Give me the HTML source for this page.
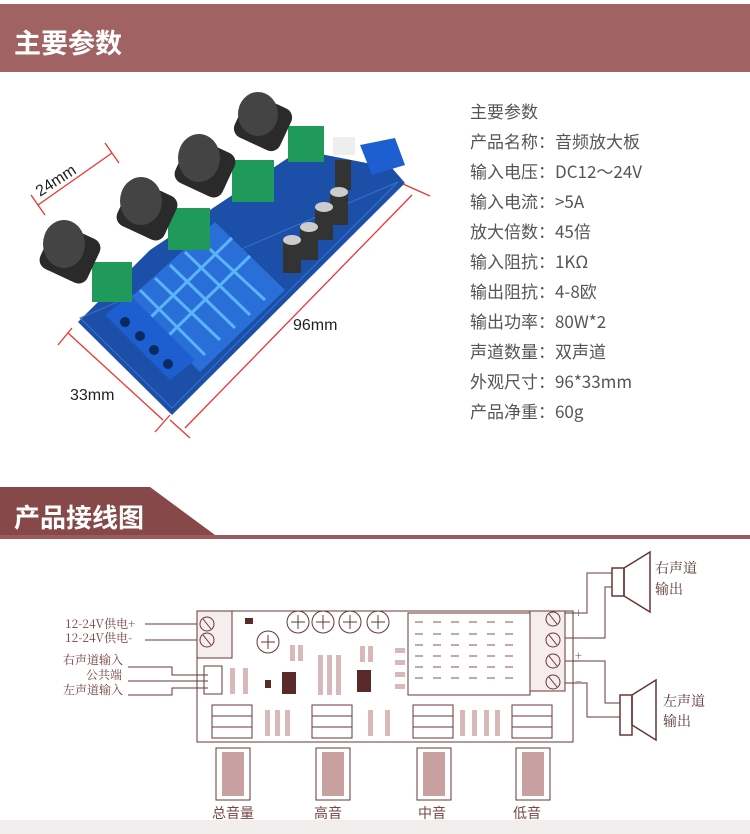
<!DOCTYPE html>
<html><head><meta charset="utf-8"><style>
body{margin:0;width:750px;height:834px;background:#fff;overflow:hidden;font-family:"Liberation Sans","Noto Sans CJK SC",sans-serif;position:relative}
.h1{position:absolute;left:0;top:4px;width:750px;height:68px;background:#a06262}
.t{position:absolute;color:#fff;font-weight:bold;font-size:27px;font-family:"Noto Sans CJK SC",sans-serif}
.spec{position:absolute;left:470px;top:96px;font-size:17px;color:#555;line-height:30px;font-family:"Noto Sans CJK SC",sans-serif}
</style></head><body>
<div class="h1"></div>
<div class="t" style="left:14px;top:22px">主要参数</div>
<div class="spec">主要参数<br>产品名称：音频放大板<br>输入电压：DC12～24V<br>输入电流：&gt;5A<br>放大倍数：45倍<br>输入阻抗：1KΩ<br>输出阻抗：4-8欧<br>输出功率：80W*2<br>声道数量：双声道<br>外观尺寸：96*33mm<br>产品净重：60g</div>

<svg style="position:absolute;left:0;top:0" width="750" height="834">
<!-- photo board -->
<polygon points="78,322,172,415,405,183,392,168,300,150,150,250" fill="#1c4fa8"/>
<polygon points="80,318,172,408,398,182" fill="none" stroke="#3a70c8" stroke-width="1"/>
<!-- heatsink -->
<polygon points="128,300,200,372,285,290,215,222" fill="#2a6fd8"/>
<g stroke="#5ab4f8" stroke-width="3">
<line x1="140" y1="290" x2="205" y2="355"/><line x1="155" y1="278" x2="220" y2="340"/><line x1="170" y1="265" x2="235" y2="328"/><line x1="185" y1="252" x2="250" y2="315"/><line x1="200" y1="240" x2="265" y2="300"/>
<line x1="150" y1="318" x2="232" y2="238"/><line x1="168" y1="336" x2="250" y2="256"/>
</g>
<!-- terminal blue -->
<polygon points="105,315,170,380,195,360,130,295" fill="#1d5fd0"/>
<g fill="#0a2a60"><circle cx="125" cy="322" r="5"/><circle cx="140" cy="336" r="5"/><circle cx="154" cy="350" r="5"/><circle cx="168" cy="364" r="5"/></g>
<polygon points="360,145,395,138,405,165,372,175" fill="#1d5fd0"/>
<rect x="333" y="137" width="22" height="18" fill="#eee"/>
<!-- caps -->
<g fill="#333"><rect x="283" y="238" width="18" height="35"/><rect x="300" y="225" width="18" height="35"/><rect x="315" y="205" width="18" height="35"/><rect x="330" y="190" width="18" height="35"/><rect x="335" y="160" width="16" height="30"/></g>
<g fill="#ccc"><ellipse cx="292" cy="240" rx="9" ry="5"/><ellipse cx="309" cy="227" rx="9" ry="5"/><ellipse cx="324" cy="207" rx="9" ry="5"/><ellipse cx="339" cy="192" rx="9" ry="5"/></g>
<!-- pots green -->
<g fill="#1f9a5a"><rect x="92" y="262" width="40" height="40"/><rect x="168" y="208" width="42" height="42"/><rect x="232" y="160" width="42" height="42"/><rect x="288" y="126" width="36" height="36"/></g>
<!-- knobs -->
<g fill="#2a2a2a">
<rect x="44" y="230" width="52" height="48" rx="10" transform="rotate(25 70 254)"/>
<rect x="121" y="187" width="52" height="48" rx="10" transform="rotate(25 147 211)"/>
<rect x="179" y="144" width="52" height="48" rx="10" transform="rotate(25 205 168)"/>
<rect x="238" y="100" width="50" height="46" rx="10" transform="rotate(25 263 123)"/></g>
<g fill="#444"><ellipse cx="64" cy="244" rx="21" ry="24"/><ellipse cx="141" cy="201" rx="21" ry="24"/><ellipse cx="199" cy="158" rx="21" ry="24"/><ellipse cx="258" cy="114" rx="20" ry="22"/></g>
<!-- dims -->
<g stroke="#e33" stroke-width="1.3">
<line x1="38" y1="205" x2="112" y2="153"/><line x1="31" y1="195" x2="45" y2="215"/><line x1="105" y1="143" x2="119" y2="163"/>
<line x1="185" y1="428" x2="412" y2="195"/><line x1="170" y1="420" x2="190" y2="438"/><line x1="403" y1="184" x2="430" y2="196"/>
<line x1="68" y1="333" x2="163" y2="420"/><line x1="58" y1="345" x2="72" y2="328"/><line x1="155" y1="432" x2="170" y2="415"/>
</g>
<text x="40" y="197" font-size="16" fill="#222" transform="rotate(-33 40 197)">24mm</text>
<text x="293" y="330" font-size="16" fill="#222">96mm</text>
<text x="70" y="400" font-size="16" fill="#222">33mm</text>

<!-- header 2 -->
<polygon points="0,487,150,487,215,535,0,535" fill="#864848"/>
<rect x="0" y="535" width="750" height="4" fill="#9c5c5c"/>
<text x="14" y="527" font-size="26" font-weight="bold" fill="#fff" font-family="Noto Sans CJK SC">产品接线图</text>

<g stroke="#6a3535" fill="none" stroke-width="1">
<rect x="197" y="611" width="376" height="131"/>
<rect x="197" y="611" width="35" height="47" fill="#f6eeee"/>
<circle cx="207" cy="624" r="7"/><circle cx="207" cy="640" r="7"/>
<line x1="203" y1="619" x2="211" y2="629"/><line x1="203" y1="635" x2="211" y2="645"/>
<circle cx="298" cy="622" r="11"/><circle cx="323" cy="622" r="11"/><circle cx="350" cy="622" r="11"/><circle cx="378" cy="622" r="11"/><circle cx="268" cy="642" r="11"/>
<path d="M291 622h14M298 615v14M316 622h14M323 615v14M343 622h14M350 615v14M371 622h14M378 615v14M261 642h14M268 635v14"/>
<rect x="408" y="613" width="122" height="82"/>
<rect x="530" y="611" width="35" height="80" fill="#f6eeee"/>
<circle cx="553" cy="619" r="7"/><circle cx="553" cy="640" r="7"/><circle cx="553" cy="661" r="7"/><circle cx="553" cy="682" r="7"/>
<path d="M549 614l8 10M549 635l8 10M549 656l8 10M549 677l8 10"/>
<rect x="204" y="666" width="18" height="28"/>
<line x1="145" y1="624" x2="197" y2="624"/><line x1="145" y1="640" x2="197" y2="640"/>
<polyline points="128,667 172,667 172,675 208,675"/><line x1="128" y1="681" x2="208" y2="681"/><polyline points="128,695 172,695 172,688 208,688"/>
<polyline points="565,613 587,613 587,573 612,573"/><polyline points="565,638 605,638 605,587 612,587"/>
<polyline points="565,661 605,661 605,703 620,703"/><polyline points="565,683 587,683 587,717 620,717"/>
<rect x="612" y="568" width="12" height="28" stroke-width="1.5"/><polygon points="624,568 650,552 650,612 624,596" stroke-width="1.5"/>
<rect x="620" y="695" width="12" height="40" stroke-width="1.5"/><polygon points="632,695 656,680 656,740 632,725" stroke-width="1.5"/>
<rect x="212" y="705" width="40" height="33"/><line x1="212" y1="716" x2="252" y2="716"/><line x1="212" y1="727" x2="252" y2="727"/>
<rect x="312" y="705" width="40" height="33"/><line x1="312" y1="716" x2="352" y2="716"/><line x1="312" y1="727" x2="352" y2="727"/>
<rect x="413" y="705" width="40" height="33"/><line x1="413" y1="716" x2="453" y2="716"/><line x1="413" y1="727" x2="453" y2="727"/>
<rect x="512" y="705" width="40" height="33"/><line x1="512" y1="716" x2="552" y2="716"/><line x1="512" y1="727" x2="552" y2="727"/>
<rect x="216" y="748" width="34" height="52"/><rect x="316" y="748" width="34" height="52"/><rect x="417" y="748" width="34" height="52"/><rect x="516" y="748" width="34" height="52"/>
</g>
<g fill="#c9a0a0"><rect x="222" y="752" width="22" height="44"/><rect x="322" y="752" width="22" height="44"/><rect x="423" y="752" width="22" height="44"/><rect x="522" y="752" width="22" height="44"/></g>
<g stroke="#8a5050" stroke-width="1">
<path d="M415 622h8M433 622h8M451 622h8M469 622h8M487 622h8M505 622h8M415 634h8M433 634h8M451 634h8M469 634h8M487 634h8M505 634h8M415 645h8M433 645h8M451 645h8M469 645h8M487 645h8M505 645h8M415 656h8M433 656h8M451 656h8M469 656h8M487 656h8M505 656h8M415 667h8M433 667h8M451 667h8M469 667h8M487 667h8M505 667h8M415 678h8M433 678h8M451 678h8M469 678h8M487 678h8M505 678h8"/>
</g>
<g fill="#5a2a2a"><rect x="282" y="672" width="14" height="22"/><rect x="357" y="670" width="14" height="22"/><rect x="245" y="618" width="8" height="6"/><rect x="265" y="680" width="6" height="8"/></g>
<g fill="#d8b8b8"><rect x="290" y="645" width="5" height="16"/><rect x="298" y="645" width="5" height="16"/><rect x="318" y="655" width="5" height="40"/><rect x="327" y="655" width="5" height="40"/><rect x="336" y="655" width="5" height="40"/><rect x="360" y="646" width="5" height="16"/><rect x="368" y="646" width="5" height="16"/><rect x="230" y="668" width="5" height="26"/><rect x="243" y="668" width="5" height="26"/><rect x="265" y="710" width="5" height="26"/><rect x="275" y="710" width="5" height="26"/><rect x="285" y="710" width="5" height="26"/><rect x="368" y="710" width="5" height="26"/><rect x="385" y="710" width="5" height="26"/><rect x="460" y="710" width="5" height="26"/><rect x="472" y="710" width="5" height="26"/><rect x="484" y="710" width="5" height="26"/><rect x="495" y="710" width="5" height="26"/><rect x="395" y="648" width="10" height="5"/><rect x="395" y="660" width="10" height="5"/><rect x="395" y="672" width="10" height="5"/><rect x="395" y="684" width="10" height="5"/></g>
<g font-family="Noto Serif CJK SC" font-size="12" fill="#7a4040">
<text x="65" y="628">12-24V供电+</text><text x="65" y="642">12-24V供电-</text>
<text x="63" y="664">右声道输入</text><text x="86" y="679">公共端</text><text x="63" y="694">左声道输入</text>
<text x="575" y="617" font-size="12">+</text><text x="575" y="642" font-size="12">−</text><text x="575" y="660" font-size="12">+</text><text x="575" y="686" font-size="12">−</text>
</g>
<g font-family="Noto Serif CJK SC" font-size="14" fill="#5a3030">
<text x="655" y="573">右声道</text><text x="655" y="594">输出</text>
<text x="663" y="706">左声道</text><text x="663" y="726">输出</text>
</g>
<rect x="0" y="820" width="750" height="14" fill="#f2eeee"/>
<g font-family="Noto Sans CJK SC" font-size="14" fill="#7a4545" text-anchor="middle">
<text x="233" y="818">总音量</text><text x="328" y="818">高音</text><text x="432" y="818">中音</text><text x="527" y="818">低音</text>
</g>
</svg>
</body></html>
